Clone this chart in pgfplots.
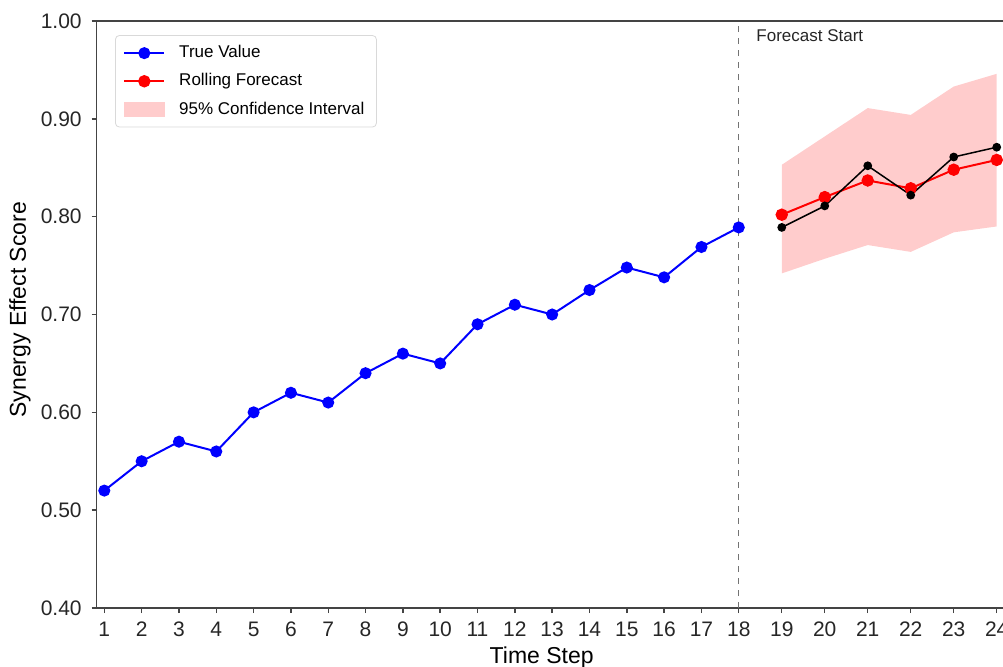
\documentclass[border=0pt]{standalone}
\usepackage{pgfplots}
\pgfplotsset{compat=1.18}
\usepackage{fontspec}
\setmainfont{Liberation Sans}
\definecolor{spine}{HTML}{444444}
\definecolor{cifill}{RGB}{255,204,204}
\definecolor{ttblue}{RGB}{0,0,255}
\definecolor{ttred}{RGB}{255,0,0}
\begin{document}
\begin{tikzpicture}
\begin{axis}[
  at={(0,0)}, anchor=south west,
  scale only axis, width=453.15pt, height=293.5pt,
  x coord trafo/.code={\pgfmathparse{#1+(#1>18)*(#1-18)*0.152}},
  xmin=0.796, xmax=24.146, ymin=0.4, ymax=1.0,
  separate axis lines,
  axis x line=box, axis y line=left,
  axis line style={-, draw=spine, line width=0.8pt},
  tick style={draw=spine, line width=0.7pt},
  tick align=outside, major tick length=2.5pt,
  xtick pos=lower, ytick pos=left,
  xtick={1,2,3,4,5,6,7,8,9,10,11,12,13,14,15,16,17,18,19,20,21,22,23,24},
  xticklabels={1,2,3,4,5,6,7,8,9,10,11,12,13,14,15,16,17,18,19,20,21,22,23,24},
  ytick={0.4,0.5,0.6,0.7,0.8,0.9,1.0},
  /pgf/number format/fixed, /pgf/number format/fixed zerofill,
  /pgf/number format/precision=2, /pgf/number format/assume math mode=true,
  ticklabel style={font=\fontsize{10.5}{12}\selectfont, text=black!85},
  yticklabel style={xshift=-1.5pt},
  xticklabel style={yshift=-1pt},
  xlabel={Time Step}, ylabel={Synergy Effect Score},
  xlabel style={at={(axis description cs:0.491,-0.085)}, anchor=center, font=\fontsize{11.5}{13}\selectfont},
  ylabel style={at={(axis description cs:-0.0846,0.508)}, anchor=center, font=\fontsize{11.5}{13}\selectfont},
  legend cell align=left,
  legend style={at={(axis description cs:0.0202,0.976)}, anchor=north west,
    draw=black!15, rounded corners=2pt, fill=white,
    font=\fontsize{8.5}{10}\selectfont, row sep=2.4pt, inner xsep=4pt, inner ysep=3pt,
    /tikz/every odd column/.append style={column sep=5pt}},
  legend image code/.code={\draw[mark repeat=2, mark phase=2, #1] plot coordinates {(0cm,0cm) (0.35cm,0cm) (0.7cm,0cm)};},
]
% confidence band
\addplot[fill=cifill, draw=none, forget plot] coordinates {
  (19,0.853) (20,0.882) (21,0.911) (22,0.904) (23,0.933) (24,0.946)
  (24,0.790) (23,0.784) (22,0.764) (21,0.771) (20,0.757) (19,0.742)} -- cycle;
% forecast start line
\addplot[dashed, draw=black!55, line width=0.7pt, forget plot] coordinates {(18,0.4) (18,1.0)};
% true value
\addplot[ttblue, line width=1pt, mark=*, mark size=2.5pt, mark options={fill=ttblue, draw=ttblue}] coordinates {
  (1,0.52) (2,0.55) (3,0.57) (4,0.56) (5,0.60) (6,0.62) (7,0.61) (8,0.64) (9,0.66)
  (10,0.65) (11,0.69) (12,0.71) (13,0.70) (14,0.725) (15,0.748) (16,0.738) (17,0.769) (18,0.789)};
\addlegendentry{True Value}
% rolling forecast
\addplot[ttred, line width=1pt, mark=*, mark size=2.6pt, mark options={fill=ttred, draw=ttred}] coordinates {
  (19,0.802) (20,0.820) (21,0.837) (22,0.829) (23,0.848) (24,0.858)};
\addlegendentry{Rolling Forecast}
% actual in forecast window
\addplot[black, line width=0.75pt, mark=*, mark size=1.8pt, mark options={fill=black}, forget plot] coordinates {
  (19,0.789) (20,0.811) (21,0.852) (22,0.822) (23,0.861) (24,0.871)};
\addlegendimage{legend image code/.code={\fill[cifill, sharp corners] (0cm,-0.12cm) rectangle (0.7cm,0.12cm);}}
\addlegendentry{95\% Confidence Interval}
\node[anchor=west, inner sep=0pt, font=\fontsize{8.5}{10}\selectfont, text=black!85] at (rel axis cs:0.7275,0.9744) {Forecast Start};
\end{axis}
\pgfresetboundingbox
\useasboundingbox (-48.35pt,-29pt) rectangle (453.15pt,304pt);
\end{tikzpicture}
\end{document}
